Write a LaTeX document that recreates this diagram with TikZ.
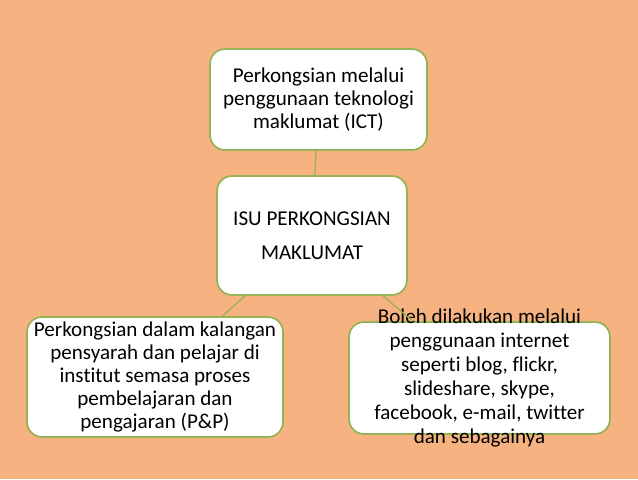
\documentclass[tikz,border=0pt]{standalone}
\usepackage{fontspec}
\setmainfont{Carlito}[Ligatures=CommonOff]
\usetikzlibrary{positioning, shapes}

\definecolor{bgorange}{RGB}{246,178,128}
\definecolor{boxgreen}{RGB}{150,180,85}

\tikzset{
	isubox/.style={draw=boxgreen, line width=1.5pt, fill=white, rounded corners=0.45cm, align=center, font=\fontsize{18}{19.6}\selectfont},
	link/.style={draw=boxgreen, line width=1.1pt}
}

\begin{document}
\begin{tikzpicture}
	% background
	\fill[bgorange] (0,0) rectangle (19.14,14.37);
	\useasboundingbox (0,0) rectangle (19.14,14.37);

	\node[isubox, minimum width=5.7cm, minimum height=3.57cm, font=\fontsize{18}{29}\selectfont] (isu) at (9.36,7.305) {ISU PERKONGSIAN\\MAKLUMAT};

	\node[isubox, minimum width=6.51cm, minimum height=3.03cm] (ict) at (9.555,11.385) {Perkongsian melalui\\penggunaan teknologi\\maklumat (ICT)};

	\node[isubox, minimum width=7.68cm, minimum height=3.6cm, inner xsep=1pt] (pnp) at (4.65,3.06) {Perkongsian dalam kalangan\\pensyarah dan pelajar di\\institut semasa proses\\pembelajaran dan\\pengajaran (P\&P)};

	\node[isubox, minimum width=7.83cm, minimum height=3.36cm, inner ysep=-0.5cm, font=\fontsize{18}{20.4}\selectfont] (net) at (14.385,3.03) {Boleh dilakukan melalui\\penggunaan internet\\seperti blog, flickr,\\slideshare, skype,\\facebook, e-mail, twitter\\dan sebagainya};

	% connectors
	\draw[link] (isu) -- (ict);
	\draw[link] (isu) -- (pnp);
	\draw[link] (isu) -- (net);
\end{tikzpicture}
\end{document}
